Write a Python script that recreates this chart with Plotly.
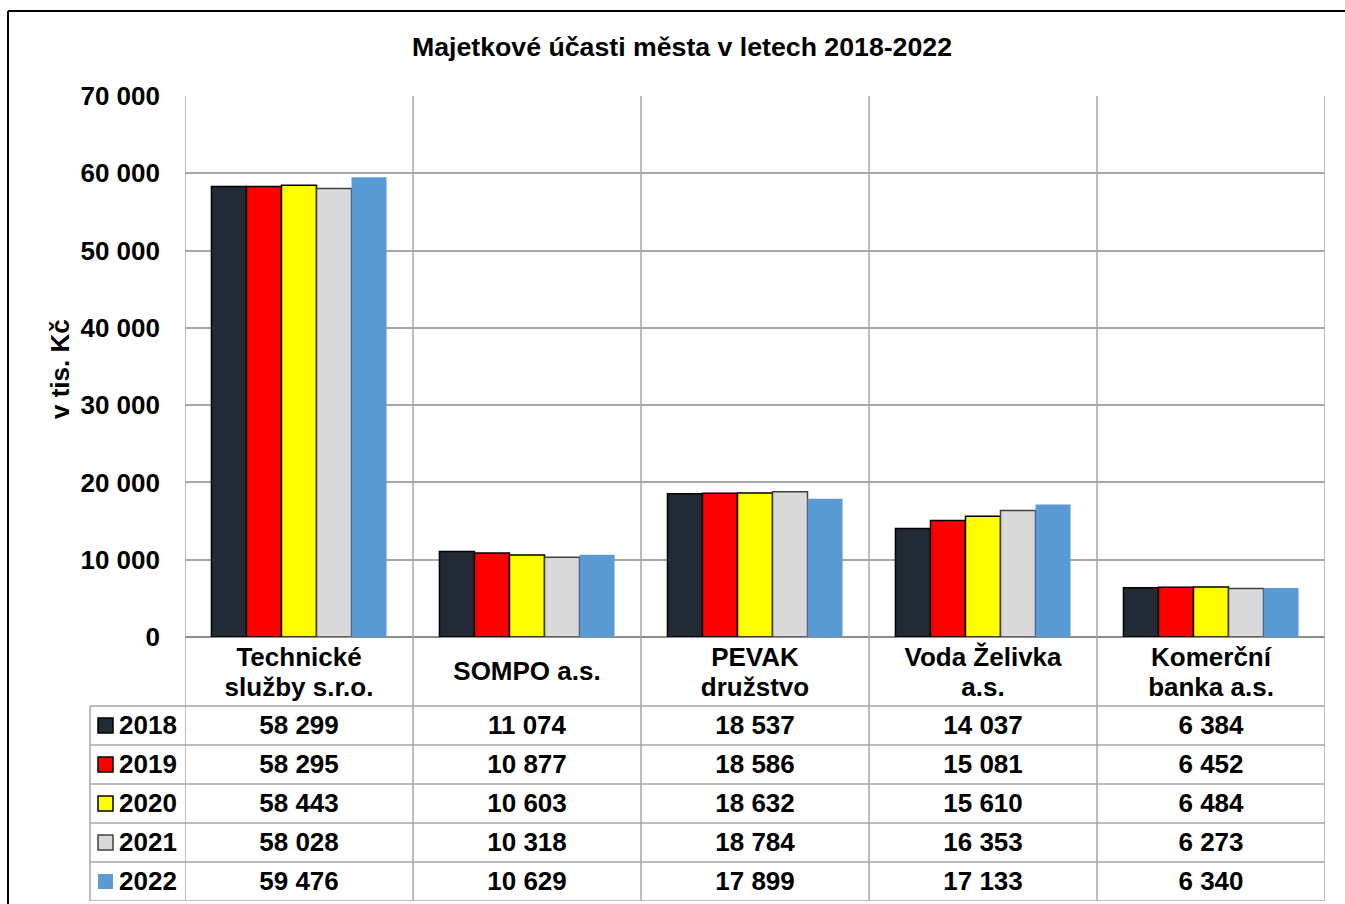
import plotly.graph_objects as go

# ---------------- data ----------------
categories = ["Technické služby s.r.o.", "SOMPO a.s.", "PEVAK družstvo",
              "Voda Želivka a.s.", "Komerční banka a.s."]
category_labels = ["Technické<br>služby s.r.o.", "SOMPO a.s.", "PEVAK<br>družstvo",
                   "Voda Želivka<br>a.s.", "Komerční<br>banka a.s."]
years = ["2018", "2019", "2020", "2021", "2022"]
v2018 = [58299, 11074, 18537, 14037, 6384]
v2019 = [58295, 10877, 18586, 15081, 6452]
v2020 = [58443, 10603, 18632, 15610, 6484]
v2021 = [58028, 10318, 18784, 16353, 6273]
v2022 = [59476, 10629, 17899, 17133, 6340]
series = [v2018, v2019, v2020, v2021, v2022]
y_ticks = [0, 10000, 20000, 30000, 40000, 50000, 60000, 70000]
title_text = "Majetkové účasti města v letech 2018-2022"
y_title = "v tis. Kč"

# ---------------- style ----------------
W, H = 1345, 904
colors = ["#222a35", "#ff0000", "#ffff00", "#d9d9d9", "#5b9bd5"]
outline_colors = ["#000000", "#000000", "#000000", "#404040", None]
FONT = "Liberation Sans, Arial, sans-serif"
FS = 26
GRID = "#a6a6a6"

def px_x(p):
    return p / W

def px_y(p):
    return 1 - p / H

plot_left, plot_right, plot_top, plot_bottom, table_bottom = 185, 1325, 96, 637, 901
legend_left = 90
header_h = 69
row_h = 39
table_h = table_bottom - plot_bottom

fig = go.Figure()

for i, (yr, vals) in enumerate(zip(years, series)):
    oc = outline_colors[i]
    fig.add_trace(go.Bar(
        x=categories, y=vals, name=yr,
        marker=dict(color=colors[i],
                    line=dict(color=oc if oc else colors[i], width=1.5 if oc else 0)),
        xaxis="x", yaxis="y", showlegend=False,
    ))

# table: header lines
for ci, (cat, lab) in enumerate(zip(categories, category_labels)):
    parts = lab.split("<br>")
    if len(parts) == 2:
        ys = [22, 52]
    else:
        ys = [header_h / 2 + 1.5]
    fig.add_trace(go.Scatter(
        x=[cat] * len(parts), y=ys, text=parts, mode="text",
        textfont=dict(family=FONT, size=FS, color="black", weight="bold"),
        xaxis="x2", yaxis="y2", showlegend=False, hoverinfo="skip",
    ))

# table: values
row_centers = [header_h + row_h * (r + 0.5) for r in range(len(years))]
for r, vals in enumerate(series):
    fig.add_trace(go.Scatter(
        x=categories, y=[row_centers[r] + 1.5] * len(categories),
        text=[f"{v:,}".replace(",", " ") for v in vals], mode="text",
        textfont=dict(family=FONT, size=FS, color="black", weight="bold"),
        xaxis="x2", yaxis="y2", showlegend=False, hoverinfo="skip",
    ))

shapes = []
# outer frame
shapes.append(dict(type="line", xref="paper", yref="paper", x0=px_x(8), x1=px_x(W + 5),
                   y0=px_y(11), y1=px_y(11), line=dict(color="black", width=2)))
shapes.append(dict(type="line", xref="paper", yref="paper", x0=px_x(8), x1=px_x(8),
                   y0=px_y(11), y1=px_y(H + 5), line=dict(color="black", width=2)))
# vertical category boundaries
for i in range(len(categories) + 1):
    shapes.append(dict(type="line", xref="x", yref="paper", x0=i - 0.5, x1=i - 0.5,
                       y0=px_y(table_bottom), y1=px_y(plot_top),
                       line=dict(color=GRID, width=1.5)))
# legend column left line
shapes.append(dict(type="line", xref="paper", yref="y2", x0=px_x(legend_left), x1=px_x(legend_left),
                   y0=header_h, y1=table_h, line=dict(color=GRID, width=1.5)))
# horizontal table lines
for r in range(len(years) + 1):
    yy = header_h + r * row_h
    shapes.append(dict(type="line", xref="paper", yref="y2", x0=px_x(legend_left), x1=px_x(plot_right),
                       y0=yy, y1=yy, line=dict(color=GRID, width=1.5)))
# legend keys
annotations = []
for r, yr in enumerate(years):
    c = row_centers[r]
    oc = outline_colors[r]
    shapes.append(dict(type="rect", xref="paper", yref="y2", x0=px_x(98), x1=px_x(113),
                       y0=c - 7.5, y1=c + 7.5, fillcolor=colors[r],
                       line=dict(color=oc if oc else colors[r], width=1.5 if oc else 0)))
    annotations.append(dict(text=yr, xref="paper", yref="y2", x=px_x(117), y=c - 0.5,
                            xanchor="left", yanchor="middle", showarrow=False,
                            font=dict(family=FONT, size=FS, color="black", weight="bold")))

annotations.append(dict(text=title_text, xref="paper", yref="paper", x=px_x(682), y=px_y(47),
                        xanchor="center", yanchor="middle", showarrow=False,
                        font=dict(family=FONT, size=26.7, color="black", weight="bold")))
annotations.append(dict(text=y_title, xref="paper", yref="paper", x=px_x(60), y=px_y(369),
                        xanchor="center", yanchor="middle", showarrow=False, textangle=-90,
                        font=dict(family=FONT, size=FS, color="black", weight="bold")))

fig.update_layout(
    template="none",
    width=W, height=H,
    margin=dict(l=0, r=0, t=0, b=0, pad=0, autoexpand=False),
    paper_bgcolor="white", plot_bgcolor="white",
    separators=", ",
    font=dict(family=FONT, size=FS, color="black", weight="bold"),
    barmode="group", bargap=0.232, bargroupgap=0,
    xaxis=dict(domain=[px_x(plot_left), px_x(plot_right)], range=[-0.5, 4.5],
               showticklabels=False, showgrid=False, zeroline=False, showline=False,
               anchor="y", fixedrange=True, automargin=False, ticks=""),
    yaxis=dict(domain=[px_y(plot_bottom), px_y(plot_top)], range=[0, 70000],
               tickvals=y_ticks, tickformat=",d", showgrid=True, gridcolor=GRID, gridwidth=1.5,
               zeroline=True, zerolinecolor="#8c8c8c", zerolinewidth=1.5,
               ticks="", ticklabelstandoff=24, showline=False, anchor="x", automargin=False,
               fixedrange=True,
               tickfont=dict(family=FONT, size=FS, color="black", weight="bold")),
    xaxis2=dict(domain=[px_x(plot_left), px_x(plot_right)], matches="x",
                showticklabels=False, showgrid=False, zeroline=False, showline=False,
                anchor="y2", automargin=False, ticks="", fixedrange=True),
    yaxis2=dict(domain=[px_y(table_bottom), px_y(plot_bottom)], range=[table_h, 0],
                showticklabels=False, showgrid=False, zeroline=False, showline=False,
                anchor="x2", automargin=False, ticks="", fixedrange=True),
    shapes=shapes, annotations=annotations,
)

fig.write_html("out.html", config={"displayModeBar": False},
               post_script="document.body.style.margin='0';")
